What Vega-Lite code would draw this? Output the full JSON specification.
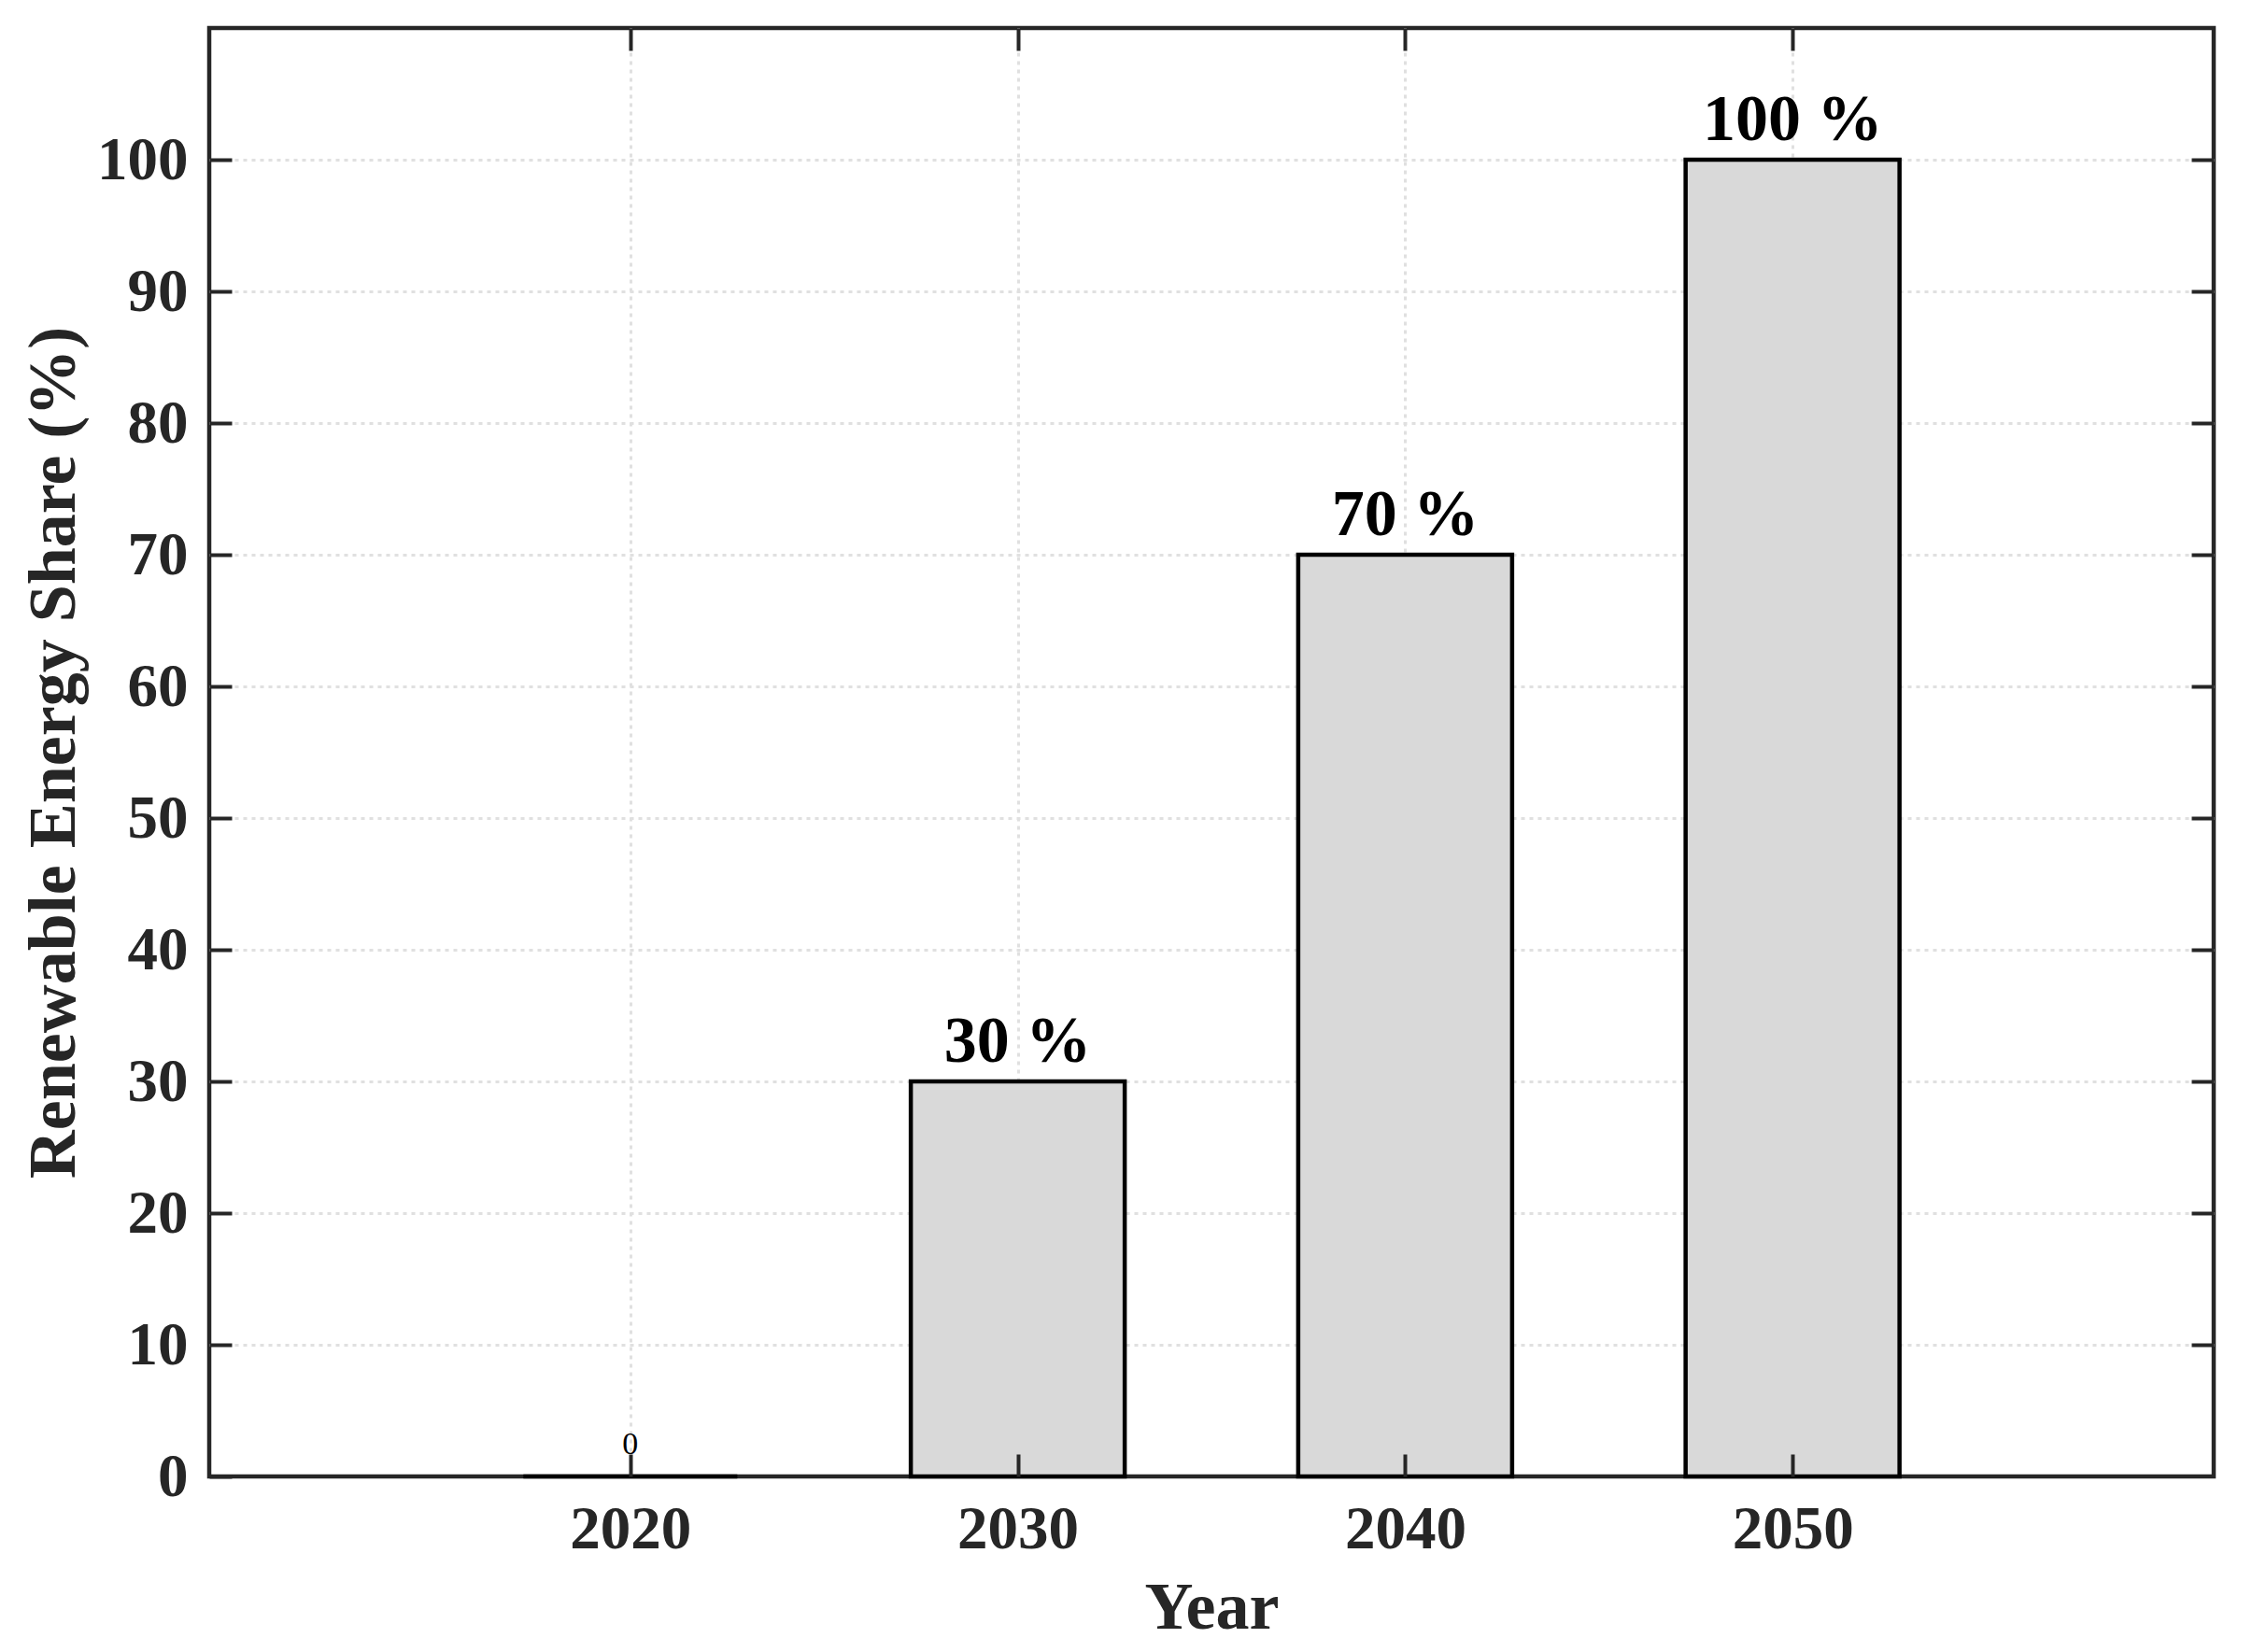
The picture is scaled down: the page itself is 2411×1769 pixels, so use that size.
{
  "$schema": "https://vega.github.io/schema/vega-lite/v6.json",
  "width": 2146,
  "height": 1551,
  "autosize": "none",
  "padding": {"left": 224, "top": 30, "right": 41, "bottom": 188},
  "background": "white",
  "data": {
    "values": [
      {"year": 2020, "share": 0, "label": "0"},
      {"year": 2030, "share": 30, "label": "30 %"},
      {"year": 2040, "share": 70, "label": "70 %"},
      {"year": 2050, "share": 100, "label": "100 %"}
    ]
  },
  "layer": [
    {
      "mark": {"type": "bar", "width": 229, "fill": "#d9d9d9", "stroke": "black", "strokeWidth": 4.5},
      "encoding": {
        "x": {
          "field": "year", "type": "quantitative",
          "scale": {"domain": [2009.25, 2060.75], "nice": false, "zero": false},
          "axis": {
            "orient": "bottom", "values": [2020, 2030, 2040, 2050], "format": "d",
            "title": "Year", "grid": false, "labelPadding": 49, "titlePadding": 16,
            "tickSize": -24, "zindex": 1
          }
        },
        "y": {
          "field": "share", "type": "quantitative",
          "scale": {"domain": [0, 110], "nice": false},
          "axis": {
            "orient": "left", "values": [0, 10, 20, 30, 40, 50, 60, 70, 80, 90, 100],
            "title": "Renewable Energy Share (%)", "grid": false, "labelPadding": 47,
            "titlePadding": 9, "tickSize": -24, "zindex": 1
          }
        }
      }
    },
    {
      "transform": [{"filter": "datum.share > 0"}],
      "mark": {
        "type": "text", "font": "Liberation Serif", "fontWeight": "bold",
        "fontSize": 70, "color": "black", "baseline": "alphabetic", "dy": -21
      },
      "encoding": {
        "x": {
          "field": "year", "type": "quantitative",
          "scale": {"domain": [2009.25, 2060.75], "nice": false, "zero": false},
          "axis": {
            "orient": "top", "values": [2020, 2030, 2040, 2050], "labels": false,
            "title": null, "grid": true, "tickSize": -24, "zindex": 0
          }
        },
        "y": {
          "field": "share", "type": "quantitative",
          "scale": {"domain": [0, 110], "nice": false},
          "axis": {
            "orient": "right", "values": [10, 20, 30, 40, 50, 60, 70, 80, 90, 100],
            "labels": false, "title": null, "grid": true, "tickSize": -24, "zindex": 0
          }
        },
        "text": {"field": "label"}
      }
    },
    {
      "transform": [{"filter": "datum.share == 0"}],
      "mark": {
        "type": "text", "font": "Liberation Serif", "fontWeight": "normal",
        "fontSize": 34, "color": "black", "baseline": "alphabetic", "dy": -24
      },
      "encoding": {
        "x": {
          "field": "year", "type": "quantitative",
          "scale": {"domain": [2009.25, 2060.75], "nice": false, "zero": false},
          "axis": null
        },
        "y": {
          "field": "share", "type": "quantitative",
          "scale": {"domain": [0, 110], "nice": false},
          "axis": null
        },
        "text": {"field": "label"}
      }
    }
  ],
  "resolve": {"axis": {"x": "independent", "y": "independent"}},
  "config": {
    "view": {"stroke": "#262626", "strokeWidth": 4.5},
    "axis": {
      "domain": false,
      "ticks": true,
      "tickColor": "#262626",
      "tickWidth": 4,
      "gridColor": "#e0e0e0",
      "gridWidth": 3,
      "gridDash": [4, 5],
      "labelFont": "Liberation Serif",
      "labelFontWeight": "bold",
      "labelFontSize": 65,
      "labelColor": "#262626",
      "titleFont": "Liberation Serif",
      "titleFontWeight": "bold",
      "titleFontSize": 72,
      "titleColor": "#262626"
    }
  }
}
